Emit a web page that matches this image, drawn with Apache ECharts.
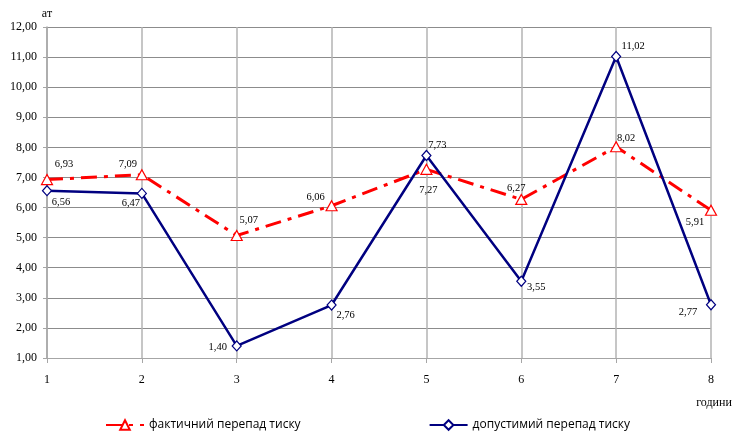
<!DOCTYPE html>
<html>
<head>
<meta charset="utf-8">
<script src="https://cdn.jsdelivr.net/npm/echarts@6/dist/echarts.min.js"></script>
<style>
  html, body { margin: 0; padding: 0; background: #fff; }
  #chart { width: 738px; height: 434px; }
  .topbar { position: absolute; left: 0; top: 0; width: 738px; height: 2px; background: #5b9bd5; }
</style>
</head>
<body>
<div class="topbar"></div>
<div id="chart"></div>
<script>
// Hours of observation
var hours = ['1', '2', '3', '4', '5', '6', '7', '8'];
// Actual pressure drop, at
var actualDrop = [6.93, 7.09, 5.07, 6.06, 7.27, 6.27, 8.02, 5.91];
// Permissible pressure drop, at
var allowedDrop = [6.56, 6.47, 1.40, 2.76, 7.73, 3.55, 11.02, 2.77];

// Label centre offsets from each marker, px: [dx, dy]
var actualLabelOffset = [
  [17, -15], [-14, -10], [12, -15], [-16, -8],
  [2, 21], [-5, -11], [10, -9], [-16, 12]
];
var allowedLabelOffset = [
  [14, 12], [-11, 10], [-19, 1], [14, 10],
  [11, -10], [15, 6], [17, -10], [-23, 8]
];

function fmt(v) { return v.toFixed(2).replace('.', ','); }

function withLabels(values, offsets) {
  return values.map(function (v, i) {
    return { value: v, label: { offset: offsets[i] } };
  });
}

var serif = '"Liberation Serif", "DejaVu Serif", serif';
var valueLabel = {
  show: true,
  position: 'inside',
  align: 'center',
  verticalAlign: 'middle',
  fontFamily: serif,
  fontSize: 10.5,
  color: '#000',
  formatter: function (p) { return fmt(p.value); }
};

var chart = echarts.init(document.getElementById('chart'));
chart.setOption({
  animation: false,
  backgroundColor: '#fff',
  grid: { left: 47, right: 27, top: 27, bottom: 76, containLabel: false },
  xAxis: {
    type: 'category',
    data: hours,
    boundaryGap: false,
    name: 'години',
    nameLocation: 'end',
    nameGap: 0,
    nameTextStyle: { fontFamily: serif, fontSize: 12, color: '#000', padding: [39, 0, 0, 6], verticalAlign: 'top', align: 'center' },
    axisLine: { show: true, lineStyle: { color: '#a6a6a6', width: 1 } },
    axisTick: { show: true, length: 5, lineStyle: { color: '#a6a6a6' } },
    axisLabel: { fontFamily: serif, fontSize: 12, color: '#000', margin: 16 },
    splitLine: { show: true, lineStyle: { color: '#b3b3b3', width: 1.5 } }
  },
  yAxis: {
    type: 'value',
    min: 1,
    max: 12,
    interval: 1,
    name: 'ат',
    nameLocation: 'end',
    nameGap: 7,
    nameTextStyle: { fontFamily: serif, fontSize: 12, color: '#000', align: 'center' },
    axisLine: { show: true, lineStyle: { color: '#a6a6a6', width: 1.5 } },
    axisTick: { show: true, length: 4, lineStyle: { color: '#a6a6a6' } },
    axisLabel: { fontFamily: serif, fontSize: 12, color: '#000', margin: 10, formatter: function (v) { return fmt(v); } },
    splitLine: { show: true, lineStyle: { color: '#8c8c8c', width: 1 } }
  },
  legend: {
    top: 419,
    left: 105,
    padding: 0,
    itemGap: 128,
    itemWidth: 38,
    itemHeight: 12,
    textStyle: { fontFamily: '"Open Sans", "DejaVu Sans", sans-serif', fontSize: 12, color: '#000' },
    data: ['фактичний перепад тиску', 'допустимий перепад тиску']
  },
  series: [
    {
      name: 'фактичний перепад тиску',
      type: 'line',
      data: withLabels(actualDrop, actualLabelOffset),
      symbol: 'triangle',
      symbolSize: [11, 10],
      z: 3,
      itemStyle: { color: '#fff', borderColor: '#ff0000', borderWidth: 1.2 },
      lineStyle: { color: '#ff0000', width: 3, type: [16, 7, 4, 7] },
      label: valueLabel
    },
    {
      name: 'допустимий перепад тиску',
      type: 'line',
      data: withLabels(allowedDrop, allowedLabelOffset),
      symbol: 'diamond',
      symbolSize: [9, 10],
      z: 4,
      itemStyle: { color: '#fff', borderColor: '#000080', borderWidth: 1.2 },
      lineStyle: { color: '#000080', width: 2.5 },
      label: valueLabel
    }
  ]
});
</script>
</body>
</html>
